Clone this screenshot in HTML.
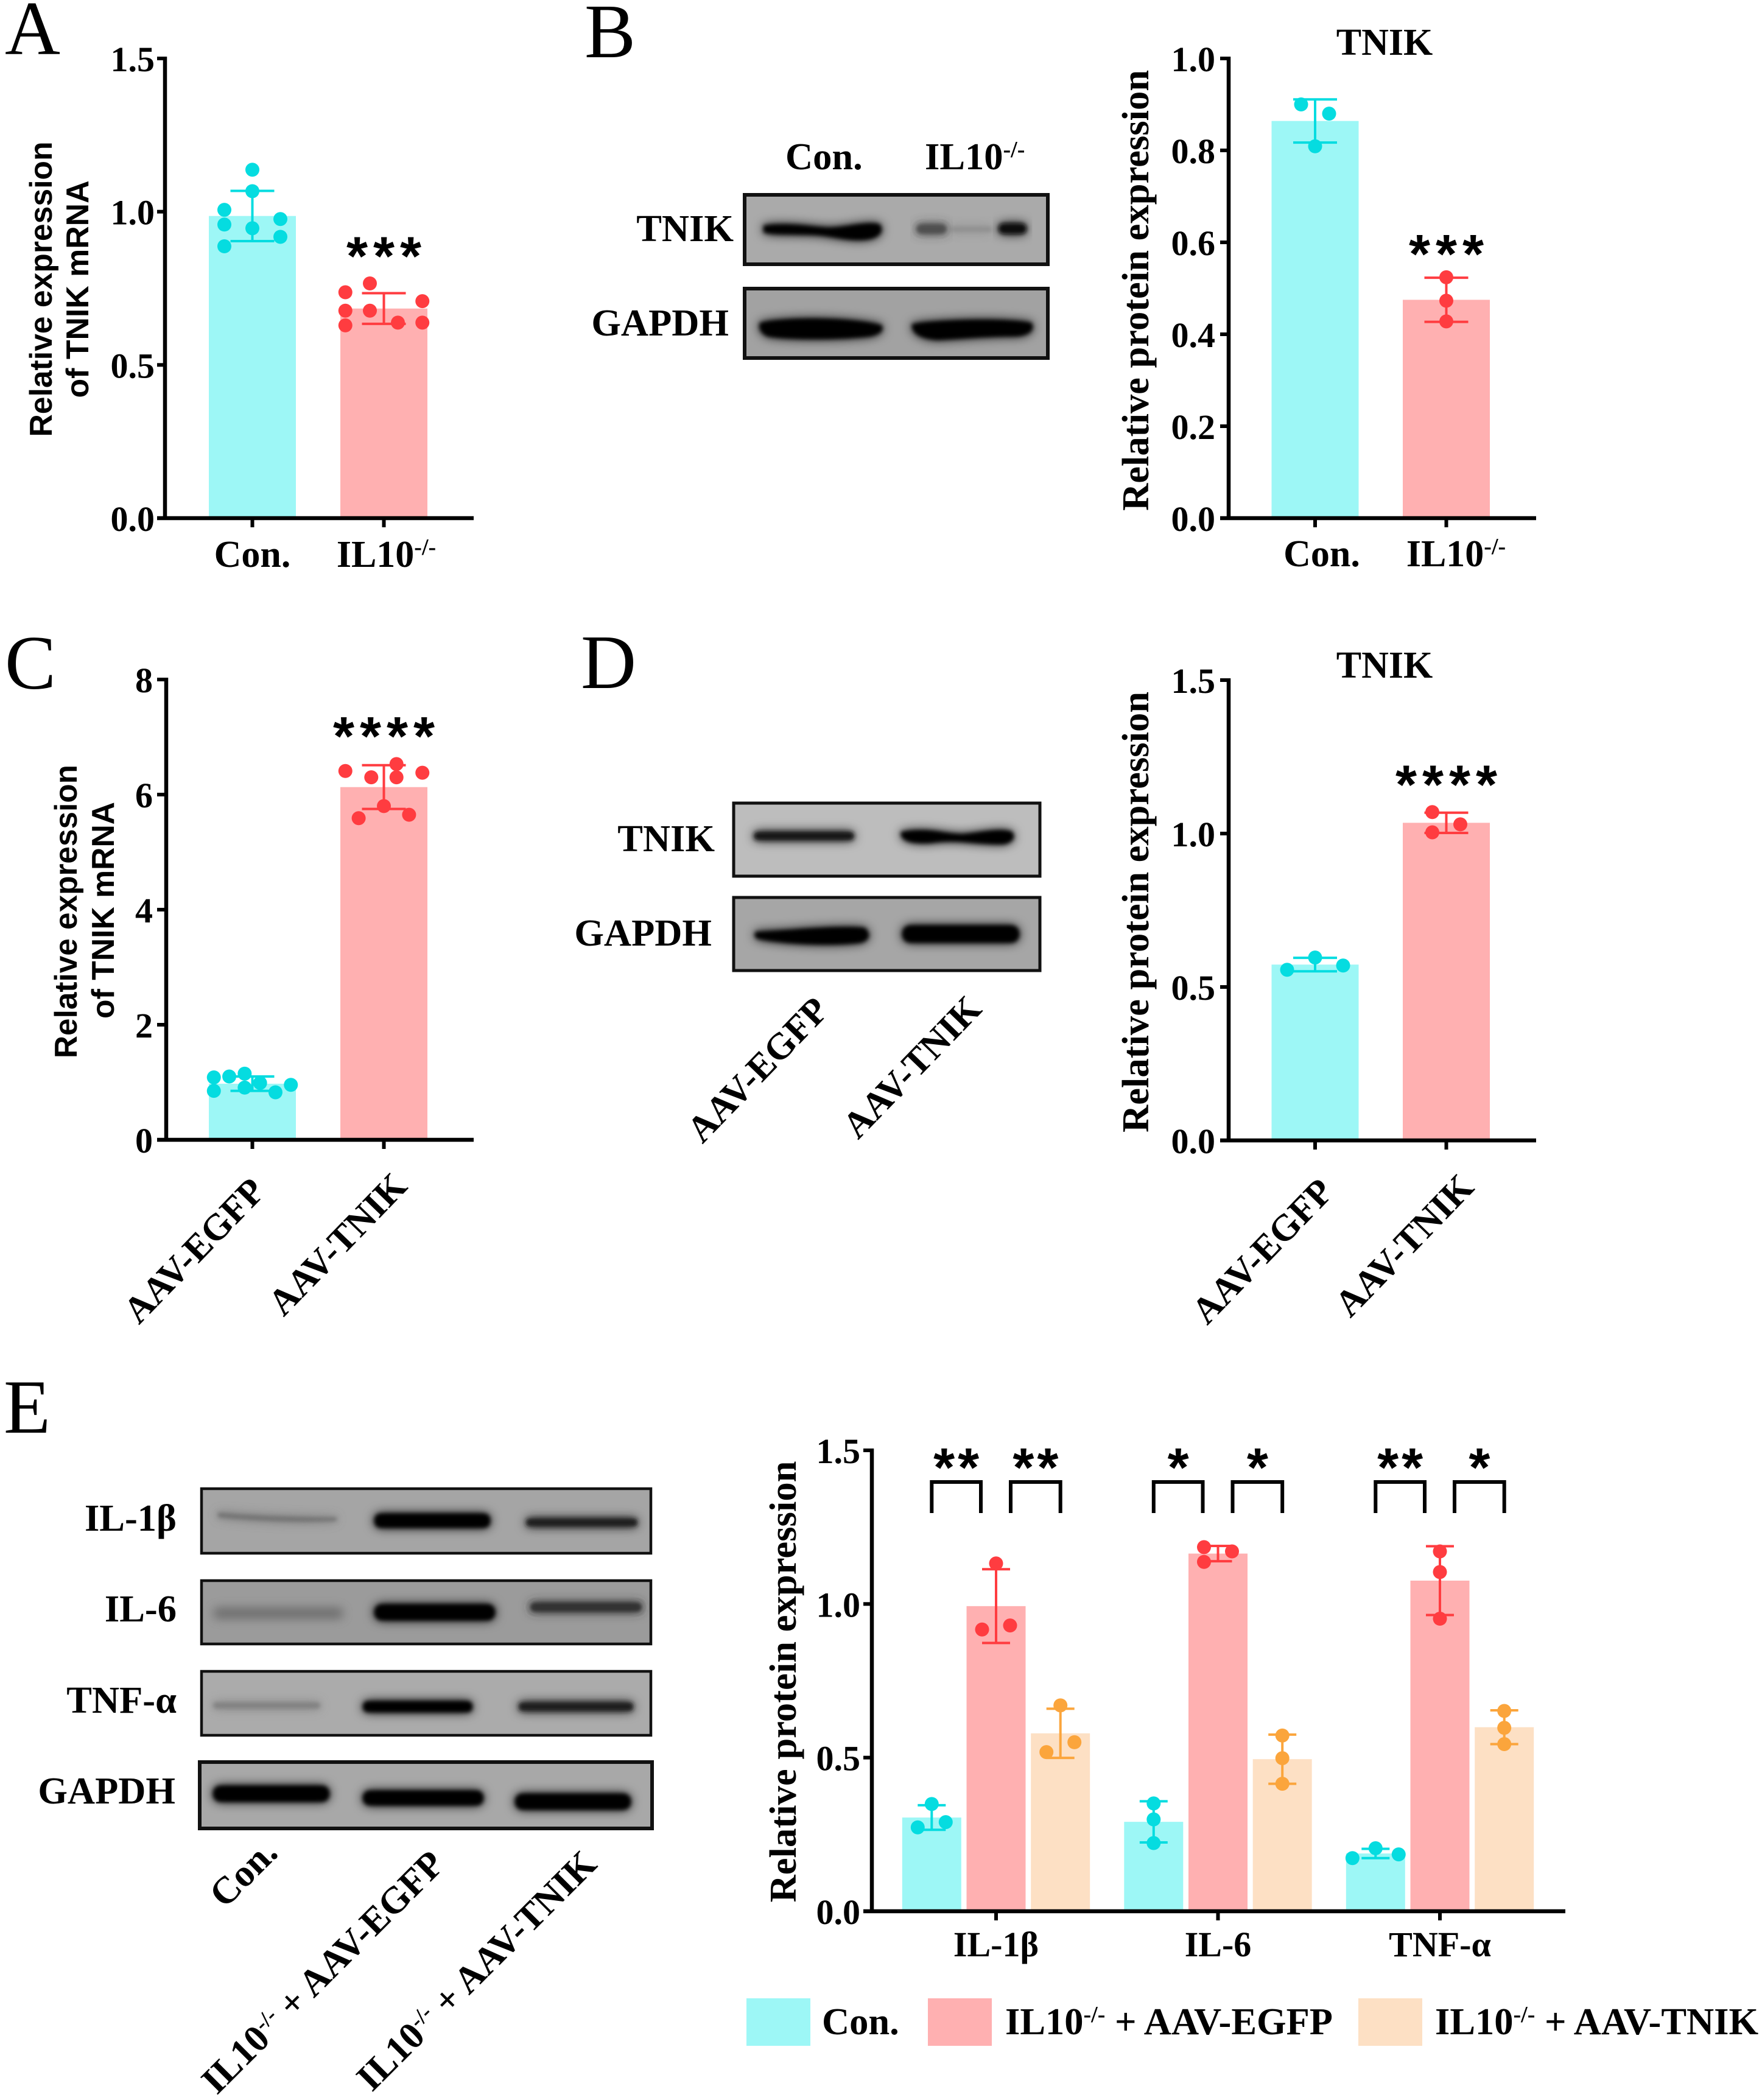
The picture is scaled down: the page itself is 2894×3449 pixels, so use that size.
<!DOCTYPE html>
<html lang="en">
<head>
<meta charset="utf-8">
<title>TNIK expression figure</title>
<style>
html,body{margin:0;padding:0;background:#fff;}
svg{display:block;}
text{font-family:"Liberation Serif",serif;font-weight:700;fill:#000;}
.sans{font-family:"Liberation Sans",sans-serif;font-weight:700;}
.panel{font-weight:400;font-size:126px;}
.lab{font-size:62.5px;}
.rot{font-size:61px;}
.rot2{font-size:62px;}
.ttl{font-size:62px;}
</style>
</head>
<body>
<svg id="figure" xmlns="http://www.w3.org/2000/svg" width="2894" height="3449" viewBox="0 0 2894 3449">
<defs>
<filter id="blurS" x="-20%" y="-200%" width="140%" height="500%"><feGaussianBlur in="SourceGraphic" stdDeviation="9" result="halo"/><feGaussianBlur in="SourceGraphic" stdDeviation="3.5" result="core"/><feMerge><feMergeNode in="halo"/><feMergeNode in="core"/></feMerge></filter>
<filter id="blurL" x="-20%" y="-200%" width="140%" height="500%"><feGaussianBlur stdDeviation="8"/></filter>
</defs>
<rect x="0" y="0" width="2894" height="3449" fill="#fff"/>

<text class="panel" x="8" y="89">A</text>
<text class="panel" x="960" y="94">B</text>
<text class="panel" x="8" y="1131">C</text>
<text class="panel" x="954" y="1130">D</text>
<text class="panel" x="6" y="2353">E</text>

<!-- axis titles -->
<text class="sans" font-size="51.5" text-anchor="middle" textLength="485" lengthAdjust="spacingAndGlyphs" transform="translate(85,475) rotate(-90)">Relative expression</text>
<text class="sans" font-size="51.5" text-anchor="middle" textLength="357" lengthAdjust="spacingAndGlyphs" transform="translate(145,475) rotate(-90)">of TNIK mRNA</text>
<text class="sans" font-size="51.5" text-anchor="middle" textLength="482" lengthAdjust="spacingAndGlyphs" transform="translate(126,1497) rotate(-90)">Relative expression</text>
<text class="sans" font-size="51.5" text-anchor="middle" textLength="356" lengthAdjust="spacingAndGlyphs" transform="translate(187,1495) rotate(-90)">of TNIK mRNA</text>
<text font-size="62" text-anchor="middle" textLength="724" lengthAdjust="spacingAndGlyphs" transform="translate(1886,477) rotate(-90)">Relative protein expression</text>
<text font-size="62" text-anchor="middle" textLength="724" lengthAdjust="spacingAndGlyphs" transform="translate(1886,1498) rotate(-90)">Relative protein expression</text>
<text font-size="62" text-anchor="middle" textLength="725" lengthAdjust="spacingAndGlyphs" transform="translate(1307,2762) rotate(-90)">Relative protein expression</text>
<text class="ttl" x="2274" y="90" text-anchor="middle">TNIK</text>
<text class="ttl" x="2274" y="1113" text-anchor="middle">TNIK</text>

<!-- Panel B blots -->
<g>
<text class="lab" x="1290" y="278">Con.</text>
<text class="lab" x="1519" y="278">IL10<tspan font-size="38" dy="-20">-/-</tspan></text>
<text class="lab" x="1205" y="396" text-anchor="end">TNIK</text>
<text class="lab" x="1197" y="551" text-anchor="end">GAPDH</text>
<rect x="1223" y="320" width="498" height="114" fill="#aaaaaa" stroke="#111" stroke-width="6"/>
<path d="M1254 370 C1300 366 1330 372 1360 374 C1390 374 1420 364 1444 368 C1452 376 1448 388 1430 392 C1400 398 1370 388 1340 386 C1300 384 1270 386 1254 382Z" fill="#050505" filter="url(#blurS)"/>
<rect x="1505" y="368" width="50" height="16" rx="8" fill="#333" opacity=".75" filter="url(#blurS)"/>
<rect x="1560" y="372" width="70" height="9" rx="4" fill="#777" opacity=".5" filter="url(#blurS)"/>
<rect x="1640" y="367" width="46" height="17" rx="8" fill="#0a0a0a" filter="url(#blurS)"/>
<rect x="1223" y="474" width="498" height="114" fill="#a2a2a2" stroke="#111" stroke-width="6"/>
<path d="M1248 530 C1300 520 1400 522 1448 534 C1452 542 1448 548 1430 552 C1380 558 1290 558 1260 552 C1248 546 1246 538 1248 530Z" fill="#000" filter="url(#blurS)"/>
<path d="M1498 532 C1540 526 1640 522 1694 530 C1700 540 1694 550 1670 552 C1620 552 1580 556 1540 558 C1510 556 1496 546 1498 532Z" fill="#000" filter="url(#blurS)"/>
</g>

<!-- Panel D blots -->
<g>
<text class="lab" x="1174" y="1398" text-anchor="end">TNIK</text>
<text class="lab" x="1169" y="1553" text-anchor="end">GAPDH</text>
<rect x="1205" y="1319" width="503" height="120" fill="#bdbdbd" stroke="#111" stroke-width="5"/>
<rect x="1238" y="1366" width="165" height="14" rx="7" fill="#161616" filter="url(#blurS)"/>
<path d="M1480 1366 C1530 1360 1540 1368 1580 1370 C1610 1368 1640 1360 1662 1366 C1668 1374 1666 1382 1650 1386 C1610 1388 1570 1378 1530 1384 C1500 1386 1476 1382 1480 1366Z" fill="#000" filter="url(#blurS)"/>
<rect x="1205" y="1474" width="503" height="120" fill="#a6a6a6" stroke="#111" stroke-width="5"/>
<path d="M1242 1530 C1290 1530 1360 1520 1420 1524 C1430 1532 1430 1544 1414 1548 C1360 1554 1290 1550 1244 1542 C1238 1538 1238 1534 1242 1530Z" fill="#050505" filter="url(#blurS)"/>
<rect x="1482" y="1520" width="192" height="28" rx="13" fill="#000" filter="url(#blurS)"/>
<text class="rot" text-anchor="end" transform="translate(1364,1662) rotate(-46)">AAV-EGFP</text>
<text class="rot" text-anchor="end" transform="translate(1615,1660) rotate(-46)">AAV-TNIK</text>
</g>

<!-- Panel E blots -->
<g>
<text class="lab" x="290" y="2514" text-anchor="end">IL-1β</text>
<text class="lab" x="290" y="2663" text-anchor="end">IL-6</text>
<text class="lab" x="290" y="2813" text-anchor="end">TNF-α</text>
<text class="lab" x="288" y="2962" text-anchor="end">GAPDH</text>
<rect x="331" y="2445" width="738" height="106" fill="#a5a5a5" stroke="#111" stroke-width="4.5"/>
<path d="M358 2484 C420 2490 500 2492 553 2492 L553 2498 C480 2502 400 2496 358 2492Z" fill="#666" opacity=".8" filter="url(#blurS)"/>
<rect x="615" y="2486" width="190" height="23" rx="10" fill="#000" filter="url(#blurS)"/>
<rect x="864" y="2494" width="183" height="13" rx="6" fill="#1c1c1c" filter="url(#blurS)"/>
<rect x="331" y="2596" width="738" height="104" fill="#9b9b9b" stroke="#111" stroke-width="4.5"/>
<rect x="350" y="2640" width="214" height="19" rx="9" fill="#666" opacity=".85" filter="url(#blurL)"/>
<rect x="615" y="2635" width="198" height="26" rx="12" fill="#000" filter="url(#blurS)"/>
<rect x="871" y="2632" width="183" height="15" rx="7" fill="#333" filter="url(#blurS)"/>
<rect x="331" y="2745" width="738" height="105" fill="#ababab" stroke="#111" stroke-width="4.5"/>
<rect x="350" y="2796" width="176" height="10" rx="5" fill="#777" opacity=".8" filter="url(#blurS)"/>
<rect x="596" y="2794" width="180" height="18" rx="8" fill="#000" filter="url(#blurS)"/>
<rect x="852" y="2796" width="188" height="14" rx="6" fill="#1a1a1a" filter="url(#blurS)"/>
<rect x="328" y="2894" width="743" height="109" fill="#a8a8a8" stroke="#111" stroke-width="6"/>
<rect x="350" y="2933" width="191" height="26" rx="12" fill="#000" filter="url(#blurS)"/>
<rect x="596" y="2941" width="198" height="24" rx="11" fill="#030303" filter="url(#blurS)"/>
<rect x="846" y="2946" width="190" height="26" rx="12" fill="#000" filter="url(#blurS)"/>
<text class="lab" text-anchor="end" transform="translate(459,3046) rotate(-45)">Con.</text>
<text class="rot2" text-anchor="end" transform="translate(733,3065) rotate(-45)">IL10<tspan font-size="37" dy="-20">-/-</tspan><tspan dy="20"> + AAV-EGFP</tspan></text>
<text class="rot2" text-anchor="end" transform="translate(983,3065) rotate(-45)">IL10<tspan font-size="37" dy="-20">-/-</tspan><tspan dy="20"> + AAV-TNIK</tspan></text>
</g>

<!-- Legend -->
<g>
<rect x="1226" y="3282" width="105" height="78" fill="#9df7f6"/>
<text class="lab" x="1350" y="3341">Con.</text>
<rect x="1524" y="3282" width="105" height="78" fill="#ffb0b1"/>
<text class="lab" x="1651" y="3341">IL10<tspan font-size="38" dy="-20">-/-</tspan><tspan dy="20"> + AAV-EGFP</tspan></text>
<rect x="2231" y="3282" width="105" height="78" fill="#fde0c4"/>
<text class="lab" x="2357" y="3341">IL10<tspan font-size="38" dy="-20">-/-</tspan><tspan dy="20"> + AAV-TNIK</tspan></text>
</g>
</svg>

<script>
// ---------- Panel A data ----------
const aCategories = ['Con.', 'IL10-/-'];
const aTickValues = [0, 0.5, 1, 1.5];
const aTickLabels = ['0.0', '0.5', '1.0', '1.5'];
const aMeans = [0.986, 0.684];
const aSds = [0.082, 0.05];
const aConDots = [1.137, 1.067, 1.006, 0.958, 0.976, 0.946, 0.918, 0.887];
const aConSlots = [0, 0, -4, -4, 4, 0, 4, -4];
const aIlDots = [0.766, 0.737, 0.708, 0.677, 0.677, 0.638, 0.638, 0.629];
const aIlSlots = [-2, -5.5, 5.5, -5.5, -2, 2, 5.5, -5.5];
const aStars = ['', '***'];

// ---------- Panel B data ----------
const bCategories = ['Con.', 'IL10-/-'];
const bTickValues = [0, 0.2, 0.4, 0.6, 0.8, 1];
const bTickLabels = ['0.0', '0.2', '0.4', '0.6', '0.8', '1.0'];
const bMeans = [0.864, 0.475];
const bSds = [0.047, 0.048];
const bConDots = [0.9, 0.88, 0.809];
const bConSlots = [-2, 2, 0];
const bIlDots = [0.524, 0.473, 0.428];
const bIlSlots = [0, 0, 0];
const bStars = ['', '***'];

// ---------- Panel C data ----------
const cCategories = ['AAV-EGFP', 'AAV-TNIK'];
const cTickValues = [0, 2, 4, 6, 8];
const cTickLabels = ['0', '2', '4', '6', '8'];
const cMeans = [0.975, 6.13];
const cSds = [0.125, 0.38];
const cEgfpDots = [1.085, 1.1, 1.15, 0.988, 0.907, 0.955, 0.85, 0.826];
const cEgfpSlots = [-5.5, -3.3, -1.1, 1.1, -1.1, 5.5, -5.5, 3.3];
const cTnikDots = [6.41, 6.53, 6.3, 6.3, 6.38, 5.8, 5.59, 5.65];
const cTnikSlots = [-5.5, 1.8, -1.8, 1.8, 5.5, 0, -3.6, 3.6];
const cStars = ['', '****'];

// ---------- Panel D data ----------
const dCategories = ['AAV-EGFP', 'AAV-TNIK'];
const dTickValues = [0, 0.5, 1, 1.5];
const dTickLabels = ['0.0', '0.5', '1.0', '1.5'];
const dMeans = [0.573, 1.035];
const dSds = [0.022, 0.033];
const dEgfpDots = [0.556, 0.596, 0.57];
const dEgfpSlots = [-4, 0, 4];
const dTnikDots = [1.07, 1.03, 1.004];
const dTnikSlots = [-2, 2, -2];
const dStars = ['', '****'];

// ---------- Panel E data ----------
const eCategories = ['IL-1β', 'IL-6', 'TNF-α'];
const eTickValues = [0, 0.5, 1, 1.5];
const eTickLabels = ['0.0', '0.5', '1.0', '1.5'];
const eConMeans = [0.305, 0.291, 0.188];
const eConSds = [0.04, 0.067, 0.015];
const eEgfpMeans = [0.993, 1.164, 1.076];
const eEgfpSds = [0.12, 0.025, 0.112];
const eTnikMeans = [0.579, 0.495, 0.599];
const eTnikSds = [0.08, 0.08, 0.055];
const eConDots = [[0.349, 0.273, 0.29], [0.351, 0.299, 0.222], [0.205, 0.173, 0.185]];
const eConSlots = [[0, -2, 2], [0, 0, 0], [0, -3.3, 3.3]];
const eEgfpDots = [[1.132, 0.917, 0.93], [1.185, 1.171, 1.137], [1.171, 1.104, 0.952]];
const eEgfpSlots = [[0, -2, 2], [-2, 2, -2], [0, 0, 0]];
const eTnikDots = [[0.67, 0.518, 0.55], [0.572, 0.498, 0.415], [0.652, 0.597, 0.544]];
const eTnikSlots = [[0, -2, 2], [0, 0, 0], [0, 0, 0]];
const eStarsLeft = ['**', '*', '**'];
const eStarsRight = ['**', '*', '*'];

// ---------- Styles ----------
const CYAN = { bar: '#9df7f6', mark: '#05dce0' };
const RED = { bar: '#ffb0b1', mark: '#ff3c40' };
const PEACH = { bar: '#fde0c4', mark: '#fba53c' };
const DOT_R = 11.5;
const svg = document.getElementById('figure');
const NS = 'http://www.w3.org/2000/svg';

function create(tag, attrs, parent) {
  const el = document.createElementNS(NS, tag);
  for (const k in attrs) el.setAttribute(k, attrs[k]);
  parent.appendChild(el);
  return el;
}

// ---------- Axis functions ----------
function yScale(frame, value) {
  return frame.y0 - value / frame.max * (frame.y0 - frame.yTop);
}
function xScale(frame, index) {
  return frame.x0 + index * frame.step;
}

function drawAxes(frame, tickValues, tickLabels, prefix, parent) {
  const yAxis = create('line', { x1: frame.xAxis, x2: frame.xAxis, y1: frame.yTop - 3, y2: frame.y0 + 3, stroke: '#000', 'stroke-width': 6.5 }, parent);
  
  
  const xAxis = create('line', { x1: frame.tickLeft, x2: frame.xEnd, y1: frame.y0, y2: frame.y0, stroke: '#000', 'stroke-width': 6.5 }, parent);
  
  
  tickValues.forEach(function (v, i) {
    const y = yScale(frame, v);
    const tick = create('line', { x1: frame.tickLeft, x2: frame.xAxis, y1: y, y2: y, stroke: '#000', 'stroke-width': 6 }, parent);
    
    
    const label = create('text', { x: frame.tickLabelX, y: y + 21, 'text-anchor': 'end', 'font-size': frame.tickFont }, parent);
    label.textContent = tickLabels[i];
    
    
  });
}

function drawXTick(frame, x, prefix, parent) {
  const tick = create('line', { x1: x, x2: x, y1: frame.y0, y2: frame.y0 + 15, stroke: '#000', 'stroke-width': 6 }, parent);
  
  
}

function fillCategoryText(label, text) {
  const m = text.match(/^(.*?)(-\/-)$/);
  if (m) {
    label.appendChild(document.createTextNode(m[1]));
    const sup = create('tspan', { 'font-size': 38, dy: -20 }, label);
    sup.textContent = m[2];
  } else {
    label.textContent = text;
  }
}

function drawBarMark(frame, cx, width, mean, sd, style, dots, slots, prefix, parent) {
  const top = yScale(frame, mean);
  const bar = create('rect', { x: cx - width / 2, y: top, width: width, height: frame.y0 - top, fill: style.bar }, parent);
  
  
  const hi = yScale(frame, mean + sd);
  const lo = yScale(frame, mean - sd);
  const stem = create('line', { x1: cx, x2: cx, y1: hi, y2: lo, stroke: style.mark, 'stroke-width': 4 }, parent);
  
  
  [hi, lo].forEach(function (capY) {
    const cap = create('line', { x1: cx - frame.cap, x2: cx + frame.cap, y1: capY, y2: capY, stroke: style.mark, 'stroke-width': 4 }, parent);
    
    
  });
  dots.forEach(function (v, i) {
    const dot = create('circle', { cx: cx + slots[i] * DOT_R, cy: yScale(frame, v), r: DOT_R, fill: style.mark }, parent);
    
    
  });
}

function drawStars(x, y, stars, spacing, prefix, parent) {
  if (!stars) return;
  const label = create('text', { x: x + spacing / 2, y: y + 50, 'text-anchor': 'middle', 'font-size': 90, 'letter-spacing': spacing, class: 'sans' }, parent);
  label.textContent = stars;
  
  
}

function drawPanel(prefix, frame, categories, tickValues, tickLabels, means, sds, dotSets, slotSets, styles, stars) {
  const group = create('g', {}, svg);
  
  
  categories.forEach(function (cat, i) {
    const cx = xScale(frame, i);
    drawBarMark(frame, cx, frame.barW, means[i], sds[i], styles[i], dotSets[i], slotSets[i], prefix + '-series-' + (i + 1), group);
  });
  drawAxes(frame, tickValues, tickLabels, prefix, group);
  categories.forEach(function (cat, i) {
    const cx = xScale(frame, i);
    drawXTick(frame, cx, prefix, group);
    let label;
    if (frame.rotated) {
      label = create('text', { 'text-anchor': 'end', 'font-size': 61, transform: 'translate(' + (cx + frame.labelDx[i]) + ',' + (frame.y0 + frame.labelDy[i]) + ') rotate(-46)' }, group);
    } else {
      label = create('text', { x: cx + frame.labelDx[i], y: frame.y0 + frame.labelDy[i], 'text-anchor': 'middle', 'font-size': 62 }, group);
    }
    fillCategoryText(label, cat);
    
    
    const starY = yScale(frame, means[i] + sds[i]) + frame.starGap;
    drawStars(cx, starY, stars[i], 9, prefix, group);
  });
}

const frameA = { max: 1.5, xAxis: 271, yTop: 96, y0: 851, xEnd: 778, tickLeft: 258, tickLabelX: 254, tickFont: 58, x0: 414.5, step: 216, barW: 143, cap: 36, labelDx: [0, 4], labelDy: [80, 80], rotated: false, starGap: -80 };
const frameB = { max: 1.0, xAxis: 2018, yTop: 96, y0: 851, xEnd: 2523, tickLeft: 2004, tickLabelX: 1996, tickFont: 58, x0: 2160, step: 215.5, barW: 143, cap: 36, labelDx: [11, 16], labelDy: [79, 79], rotated: false, starGap: -58 };
const frameC = { max: 8, xAxis: 273, yTop: 1116, y0: 1872, xEnd: 778, tickLeft: 258, tickLabelX: 251, tickFont: 58, x0: 414.5, step: 216, barW: 143, cap: 36, labelDx: [24, 41], labelDy: [87, 79], rotated: true, starGap: -67 };
const frameD = { max: 1.5, xAxis: 2018, yTop: 1117, y0: 1873, xEnd: 2523, tickLeft: 2004, tickLabelX: 1996, tickFont: 58, x0: 2160, step: 215.5, barW: 143, cap: 36, labelDx: [33, 48], labelDy: [87, 80], rotated: true, starGap: -65 };

drawPanel('panel-a', frameA, aCategories, aTickValues, aTickLabels, aMeans, aSds, [aConDots, aIlDots], [aConSlots, aIlSlots], [CYAN, RED], aStars);
drawPanel('panel-b', frameB, bCategories, bTickValues, bTickLabels, bMeans, bSds, [bConDots, bIlDots], [bConSlots, bIlSlots], [CYAN, RED], bStars);
drawPanel('panel-c', frameC, cCategories, cTickValues, cTickLabels, cMeans, cSds, [cEgfpDots, cTnikDots], [cEgfpSlots, cTnikSlots], [CYAN, RED], cStars);
drawPanel('panel-d', frameD, dCategories, dTickValues, dTickLabels, dMeans, dSds, [dEgfpDots, dTnikDots], [dEgfpSlots, dTnikSlots], [CYAN, RED], dStars);

// ---------- Panel E grouped chart ----------
const frameE = { max: 1.5, xAxis: 1432, yTop: 2382, y0: 3139, xEnd: 2571, tickLeft: 1418, tickLabelX: 1413, tickFont: 58, x0: 1636, step: 364.5, barGap: 105.7, barW: 97, cap: 23 };
const eSeries = [
  { key: 'con', style: CYAN, means: eConMeans, sds: eConSds, dots: eConDots, slots: eConSlots },
  { key: 'aav-egfp', style: RED, means: eEgfpMeans, sds: eEgfpSds, dots: eEgfpDots, slots: eEgfpSlots },
  { key: 'aav-tnik', style: PEACH, means: eTnikMeans, sds: eTnikSds, dots: eTnikDots, slots: eTnikSlots }
];

function drawBracket(x1, x2, parent) {
  const top = frameE.yTop + 52;
  const bottom = top + 51;
  const path = create('path', { d: 'M' + x1 + ' ' + bottom + 'V' + top + 'H' + x2 + 'V' + bottom, fill: 'none', stroke: '#000', 'stroke-width': 6 }, parent);
  
  
}

const groupE = create('g', {}, svg);


eCategories.forEach(function (cat, g) {
  const center = xScale(frameE, g);
  eSeries.forEach(function (s, k) {
    const cx = center + (k - 1) * frameE.barGap;
    drawBarMark(frameE, cx, frameE.barW, s.means[g], s.sds[g], s.style, s.dots[g], s.slots[g], 'panel-e-' + s.key, groupE);
  });
});
drawAxes(frameE, eTickValues, eTickLabels, 'panel-e', groupE);
eCategories.forEach(function (cat, g) {
  const center = xScale(frameE, g);
  drawXTick(frameE, center, 'panel-e', groupE);
  const label = create('text', { x: center, y: frameE.y0 + 74, 'text-anchor': 'middle', 'font-size': 58 }, groupE);
  label.textContent = cat;
  
  
  const leftA = center - frameE.barGap;
  const leftB = center - 25;
  const rightA = center + 24;
  const rightB = center + frameE.barGap;
  drawBracket(leftA, leftB, groupE);
  drawBracket(rightA, rightB, groupE);
  drawStars((leftA + leftB) / 2, frameE.yTop + 9, eStarsLeft[g], 5, 'panel-e', groupE);
  drawStars((rightA + rightB) / 2, frameE.yTop + 9, eStarsRight[g], 5, 'panel-e', groupE);
});
</script>
</body>
</html>
